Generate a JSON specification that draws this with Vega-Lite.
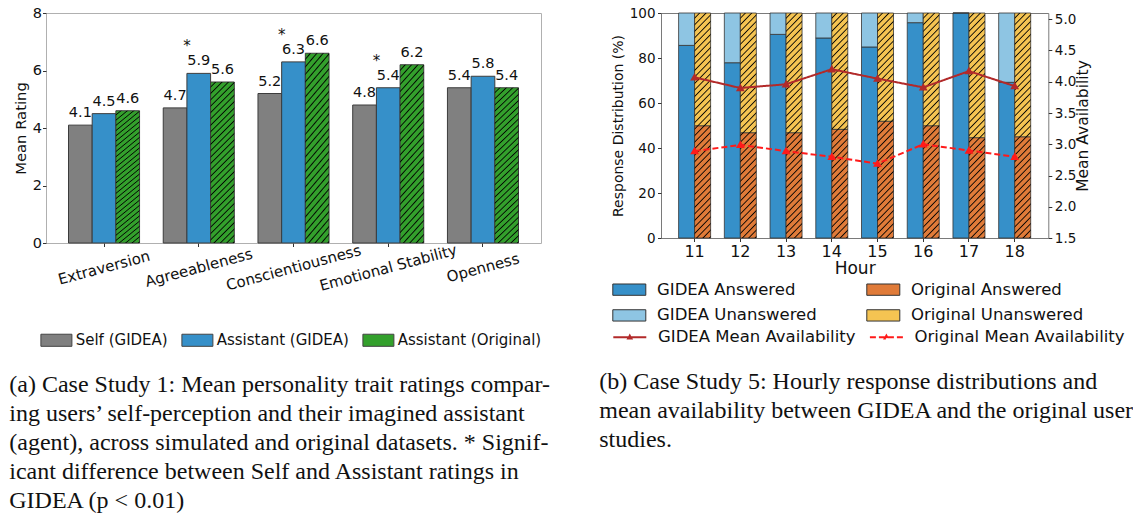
{
"$schema": "https://vega.github.io/schema/vega-lite/v6.json",
"background": "white",
"padding": {"left": 8, "top": 4, "right": 0, "bottom": 0},
"spacing": 47,
"resolve": {"scale": {"x": "independent", "y": "independent", "xOffset": "independent", "color": "independent", "fill": "independent", "stroke": "independent", "strokeDash": "independent"}, "legend": {"color": "independent", "fill": "independent", "stroke": "independent", "strokeDash": "independent"}, "axis": {"x": "independent", "y": "independent"}},
"datasets": {
"traits": [
{"trait":"Extraversion","group":"Self (GIDEA)","value":4.1,"sig":false},
{"trait":"Extraversion","group":"Assistant (GIDEA)","value":4.5,"sig":false},
{"trait":"Extraversion","group":"Assistant (Original)","value":4.6,"sig":false},
{"trait":"Agreeableness","group":"Self (GIDEA)","value":4.7,"sig":false},
{"trait":"Agreeableness","group":"Assistant (GIDEA)","value":5.9,"sig":true},
{"trait":"Agreeableness","group":"Assistant (Original)","value":5.6,"sig":false},
{"trait":"Conscientiousness","group":"Self (GIDEA)","value":5.2,"sig":false},
{"trait":"Conscientiousness","group":"Assistant (GIDEA)","value":6.3,"sig":true},
{"trait":"Conscientiousness","group":"Assistant (Original)","value":6.6,"sig":false},
{"trait":"Emotional Stability","group":"Self (GIDEA)","value":4.8,"sig":false},
{"trait":"Emotional Stability","group":"Assistant (GIDEA)","value":5.4,"sig":true},
{"trait":"Emotional Stability","group":"Assistant (Original)","value":6.2,"sig":false},
{"trait":"Openness","group":"Self (GIDEA)","value":5.4,"sig":false},
{"trait":"Openness","group":"Assistant (GIDEA)","value":5.8,"sig":false},
{"trait":"Openness","group":"Assistant (Original)","value":5.4,"sig":false}
],
"resp": [
{"hour":11,"source":"GIDEA","status":"Answered","series":"GIDEA Answered","pct":85.6},
{"hour":11,"source":"GIDEA","status":"Unanswered","series":"GIDEA Unanswered","pct":14.4},
{"hour":11,"source":"Original","status":"Answered","series":"Original Answered","pct":49.9},
{"hour":11,"source":"Original","status":"Unanswered","series":"Original Unanswered","pct":50.1},
{"hour":12,"source":"GIDEA","status":"Answered","series":"GIDEA Answered","pct":77.9},
{"hour":12,"source":"GIDEA","status":"Unanswered","series":"GIDEA Unanswered","pct":22.1},
{"hour":12,"source":"Original","status":"Answered","series":"Original Answered","pct":46.8},
{"hour":12,"source":"Original","status":"Unanswered","series":"Original Unanswered","pct":53.2},
{"hour":13,"source":"GIDEA","status":"Answered","series":"GIDEA Answered","pct":90.5},
{"hour":13,"source":"GIDEA","status":"Unanswered","series":"GIDEA Unanswered","pct":9.5},
{"hour":13,"source":"Original","status":"Answered","series":"Original Answered","pct":46.8},
{"hour":13,"source":"Original","status":"Unanswered","series":"Original Unanswered","pct":53.2},
{"hour":14,"source":"GIDEA","status":"Answered","series":"GIDEA Answered","pct":88.9},
{"hour":14,"source":"GIDEA","status":"Unanswered","series":"GIDEA Unanswered","pct":11.1},
{"hour":14,"source":"Original","status":"Answered","series":"Original Answered","pct":48.3},
{"hour":14,"source":"Original","status":"Unanswered","series":"Original Unanswered","pct":51.7},
{"hour":15,"source":"GIDEA","status":"Answered","series":"GIDEA Answered","pct":84.9},
{"hour":15,"source":"GIDEA","status":"Unanswered","series":"GIDEA Unanswered","pct":15.1},
{"hour":15,"source":"Original","status":"Answered","series":"Original Answered","pct":51.9},
{"hour":15,"source":"Original","status":"Unanswered","series":"Original Unanswered","pct":48.1},
{"hour":16,"source":"GIDEA","status":"Answered","series":"GIDEA Answered","pct":95.7},
{"hour":16,"source":"GIDEA","status":"Unanswered","series":"GIDEA Unanswered","pct":4.3},
{"hour":16,"source":"Original","status":"Answered","series":"Original Answered","pct":49.9},
{"hour":16,"source":"Original","status":"Unanswered","series":"Original Unanswered","pct":50.1},
{"hour":17,"source":"GIDEA","status":"Answered","series":"GIDEA Answered","pct":100},
{"hour":17,"source":"GIDEA","status":"Unanswered","series":"GIDEA Unanswered","pct":0},
{"hour":17,"source":"Original","status":"Answered","series":"Original Answered","pct":44.6},
{"hour":17,"source":"Original","status":"Unanswered","series":"Original Unanswered","pct":55.4},
{"hour":18,"source":"GIDEA","status":"Answered","series":"GIDEA Answered","pct":69.2},
{"hour":18,"source":"GIDEA","status":"Unanswered","series":"GIDEA Unanswered","pct":30.8},
{"hour":18,"source":"Original","status":"Answered","series":"Original Answered","pct":45.0},
{"hour":18,"source":"Original","status":"Unanswered","series":"Original Unanswered","pct":55.0}
],
"avail": [
{"hour":11,"series":"GIDEA Mean Availability","avail":4.07},
{"hour":12,"series":"GIDEA Mean Availability","avail":3.90},
{"hour":13,"series":"GIDEA Mean Availability","avail":3.96},
{"hour":14,"series":"GIDEA Mean Availability","avail":4.20},
{"hour":15,"series":"GIDEA Mean Availability","avail":4.05},
{"hour":16,"series":"GIDEA Mean Availability","avail":3.91},
{"hour":17,"series":"GIDEA Mean Availability","avail":4.17},
{"hour":18,"series":"GIDEA Mean Availability","avail":3.93},
{"hour":11,"series":"Original Mean Availability","avail":2.89},
{"hour":12,"series":"Original Mean Availability","avail":2.99},
{"hour":13,"series":"Original Mean Availability","avail":2.89},
{"hour":14,"series":"Original Mean Availability","avail":2.80},
{"hour":15,"series":"Original Mean Availability","avail":2.69},
{"hour":16,"series":"Original Mean Availability","avail":3.00},
{"hour":17,"series":"Original Mean Availability","avail":2.90},
{"hour":18,"series":"Original Mean Availability","avail":2.80}
]
},
"hconcat": [
{
"width": 495,
"height": 230,
"view": {"stroke": "#b0b0b0", "strokeWidth": 1},
"data": {"name": "traits"},
"title": {
"text": ["(a) Case Study 1: Mean personality trait ratings compar-", "ing users’ self-perception and their imagined assistant", "(agent), across simulated and original datasets. * Signif-", "icant difference between Self and Assistant ratings in", "GIDEA (p < 0.01)"],
"orient": "bottom", "anchor": "start", "frame": "bounds",
"font": "Liberation Serif", "fontSize": 24, "fontWeight": "normal", "lineHeight": 29,
"offset": 24, "dx": -4, "color": "#111"
},
"encoding": {
"x": {"field": "trait", "type": "nominal", "sort": ["Extraversion","Agreeableness","Conscientiousness","Emotional Stability","Openness"],
"scale": {"paddingInner": 0.25, "paddingOuter": 0.2375},
"axis": {"title": null, "labelAngle": -15, "labelAlign": "center", "labelBaseline": "middle", "labelPadding": 20.8, "labelFontSize": 15, "tickSize": 3.5, "domain": false, "labelOverlap": false, "labelBound": false, "labelLimit": 0}},
"xOffset": {"field": "group", "type": "nominal", "sort": ["Self (GIDEA)","Assistant (GIDEA)","Assistant (Original)"],
"scale": {"domain": ["Self (GIDEA)","Assistant (GIDEA)","Assistant (Original)"], "paddingInner": 0, "paddingOuter": 0}},
"y": {"field": "value", "type": "quantitative", "scale": {"domain": [0, 8], "nice": false},
"axis": {"values": [0,2,4,6,8], "title": "Mean Rating", "titleFontSize": 14.8, "titlePadding": 4, "labelFontSize": 14.5, "labelPadding": 1, "tickSize": 3.5, "domain": false}}
},
"layer": [
{
"mark": {"type": "bar", "stroke": "#3c3c3c", "strokeWidth": 1},
"encoding": {
"color": {"field": "group", "type": "nominal",
"scale": {"domain": ["Self (GIDEA)","Assistant (GIDEA)","Assistant (Original)"], "range": ["#808080","#3690c9","#33a02c"]},
"legend": {"orient": "none", "legendX": -5.6, "legendY": 310.8, "direction": "horizontal", "title": null,
"symbolType": "M-1,-0.39H1V0.39H-1Z", "symbolSize": 961, "symbolStrokeColor": "#444", "symbolStrokeWidth": 1, "symbolOpacity": 1,
"labelFontSize": 15, "labelOffset": 3.3, "columnPadding": 11, "labelColor": "#111"}}
}
},
{
"transform": [{"filter": "datum.group == 'Assistant (Original)'"}],
"mark": {"type": "bar", "strokeWidth": 0, "fill": {"gradient": "linear", "x1": 0, "y1": 0, "x2": 0.165, "y2": 1.123, "stops": [
{"offset":0,"color":"rgba(0,0,0,0)"},{"offset":0.0207,"color":"rgba(0,0,0,0)"},{"offset":0.0276,"color":"rgba(0,0,0,0.95)"},
{"offset":0.0345,"color":"rgba(0,0,0,0)"},{"offset":0.0552,"color":"rgba(0,0,0,0)"},{"offset":0.0621,"color":"rgba(0,0,0,0.95)"},
{"offset":0.0690,"color":"rgba(0,0,0,0)"},{"offset":0.0897,"color":"rgba(0,0,0,0)"},{"offset":0.0966,"color":"rgba(0,0,0,0.95)"},
{"offset":0.1034,"color":"rgba(0,0,0,0)"},{"offset":0.1241,"color":"rgba(0,0,0,0)"},{"offset":0.1310,"color":"rgba(0,0,0,0.95)"},
{"offset":0.1379,"color":"rgba(0,0,0,0)"},{"offset":0.1586,"color":"rgba(0,0,0,0)"},{"offset":0.1655,"color":"rgba(0,0,0,0.95)"},
{"offset":0.1724,"color":"rgba(0,0,0,0)"},{"offset":0.1931,"color":"rgba(0,0,0,0)"},{"offset":0.2000,"color":"rgba(0,0,0,0.95)"},
{"offset":0.2069,"color":"rgba(0,0,0,0)"},{"offset":0.2276,"color":"rgba(0,0,0,0)"},{"offset":0.2345,"color":"rgba(0,0,0,0.95)"},
{"offset":0.2414,"color":"rgba(0,0,0,0)"},{"offset":0.2621,"color":"rgba(0,0,0,0)"},{"offset":0.2690,"color":"rgba(0,0,0,0.95)"},
{"offset":0.2759,"color":"rgba(0,0,0,0)"},{"offset":0.2966,"color":"rgba(0,0,0,0)"},{"offset":0.3035,"color":"rgba(0,0,0,0.95)"},
{"offset":0.3103,"color":"rgba(0,0,0,0)"},{"offset":0.3310,"color":"rgba(0,0,0,0)"},{"offset":0.3379,"color":"rgba(0,0,0,0.95)"},
{"offset":0.3448,"color":"rgba(0,0,0,0)"},{"offset":0.3655,"color":"rgba(0,0,0,0)"},{"offset":0.3724,"color":"rgba(0,0,0,0.95)"},
{"offset":0.3793,"color":"rgba(0,0,0,0)"},{"offset":0.4000,"color":"rgba(0,0,0,0)"},{"offset":0.4069,"color":"rgba(0,0,0,0.95)"},
{"offset":0.4138,"color":"rgba(0,0,0,0)"},{"offset":0.4345,"color":"rgba(0,0,0,0)"},{"offset":0.4414,"color":"rgba(0,0,0,0.95)"},
{"offset":0.4483,"color":"rgba(0,0,0,0)"},{"offset":0.4690,"color":"rgba(0,0,0,0)"},{"offset":0.4759,"color":"rgba(0,0,0,0.95)"},
{"offset":0.4828,"color":"rgba(0,0,0,0)"},{"offset":0.5035,"color":"rgba(0,0,0,0)"},{"offset":0.5104,"color":"rgba(0,0,0,0.95)"},
{"offset":0.5172,"color":"rgba(0,0,0,0)"},{"offset":0.5379,"color":"rgba(0,0,0,0)"},{"offset":0.5448,"color":"rgba(0,0,0,0.95)"},
{"offset":0.5517,"color":"rgba(0,0,0,0)"},{"offset":0.5724,"color":"rgba(0,0,0,0)"},{"offset":0.5793,"color":"rgba(0,0,0,0.95)"},
{"offset":0.5862,"color":"rgba(0,0,0,0)"},{"offset":0.6069,"color":"rgba(0,0,0,0)"},{"offset":0.6138,"color":"rgba(0,0,0,0.95)"},
{"offset":0.6207,"color":"rgba(0,0,0,0)"},{"offset":0.6414,"color":"rgba(0,0,0,0)"},{"offset":0.6483,"color":"rgba(0,0,0,0.95)"},
{"offset":0.6552,"color":"rgba(0,0,0,0)"},{"offset":0.6759,"color":"rgba(0,0,0,0)"},{"offset":0.6828,"color":"rgba(0,0,0,0.95)"},
{"offset":0.6897,"color":"rgba(0,0,0,0)"},{"offset":0.7104,"color":"rgba(0,0,0,0)"},{"offset":0.7173,"color":"rgba(0,0,0,0.95)"},
{"offset":0.7241,"color":"rgba(0,0,0,0)"},{"offset":0.7448,"color":"rgba(0,0,0,0)"},{"offset":0.7517,"color":"rgba(0,0,0,0.95)"},
{"offset":0.7586,"color":"rgba(0,0,0,0)"},{"offset":0.7793,"color":"rgba(0,0,0,0)"},{"offset":0.7862,"color":"rgba(0,0,0,0.95)"},
{"offset":0.7931,"color":"rgba(0,0,0,0)"},{"offset":0.8138,"color":"rgba(0,0,0,0)"},{"offset":0.8207,"color":"rgba(0,0,0,0.95)"},
{"offset":0.8276,"color":"rgba(0,0,0,0)"},{"offset":0.8483,"color":"rgba(0,0,0,0)"},{"offset":0.8552,"color":"rgba(0,0,0,0.95)"},
{"offset":0.8621,"color":"rgba(0,0,0,0)"},{"offset":0.8828,"color":"rgba(0,0,0,0)"},{"offset":0.8897,"color":"rgba(0,0,0,0.95)"},
{"offset":0.8966,"color":"rgba(0,0,0,0)"},{"offset":0.9173,"color":"rgba(0,0,0,0)"},{"offset":0.9242,"color":"rgba(0,0,0,0.95)"},
{"offset":0.9310,"color":"rgba(0,0,0,0)"},{"offset":0.9517,"color":"rgba(0,0,0,0)"},{"offset":0.9586,"color":"rgba(0,0,0,0.95)"},
{"offset":0.9655,"color":"rgba(0,0,0,0)"},{"offset":0.9862,"color":"rgba(0,0,0,0)"},{"offset":0.9931,"color":"rgba(0,0,0,0.95)"},
{"offset":1,"color":"rgba(0,0,0,0)"}
]}}
},
{
"mark": {"type": "text", "baseline": "alphabetic", "dy": -8, "fontSize": 14.5, "color": "#111"},
"encoding": {"text": {"field": "value", "type": "quantitative", "format": ".1f"}}
},
{
"transform": [{"filter": "datum.sig"}],
"mark": {"type": "text", "text": "*", "baseline": "alphabetic", "dx": -11.7, "dy": -22, "fontSize": 15, "color": "#111"}
}
]
},
{
"width": 387.3,
"height": 225,
"view": {"stroke": "#7a7a7a", "strokeWidth": 1},
"title": {
"text": ["(b) Case Study 5: Hourly response distributions and", "mean availability between GIDEA and the original user", "studies."],
"orient": "bottom", "anchor": "start", "frame": "bounds",
"font": "Liberation Serif", "fontSize": 24, "fontWeight": "normal", "lineHeight": 29,
"offset": 24, "dx": -12, "color": "#111"
},
"encoding": {
"x": {"field": "hour", "type": "ordinal", "scale": {"paddingInner": 0.3, "paddingOuter": 0.385},
"axis": {"title": "Hour", "labelAngle": 0, "labelFontSize": 16, "titleFontSize": 17, "titlePadding": 1, "labelPadding": 2, "tickSize": 3.5, "domain": false}}
},
"layer": [
{
"data": {"name": "resp"},
"encoding": {
"xOffset": {"field": "source", "type": "nominal", "scale": {"domain": ["GIDEA","Original"], "paddingInner": 0, "paddingOuter": 0}}
},
"layer": [
{
"mark": {"type": "bar", "stroke": "#333", "strokeWidth": 0.8},
"encoding": {
"y": {"field": "pct", "type": "quantitative", "stack": "zero", "scale": {"domain": [0, 100], "nice": false},
"axis": {"values": [0,20,40,60,80,100], "title": "Response Distribution (%)", "titleFontSize": 14, "titlePadding": 4, "labelFontSize": 13.5, "labelPadding": 2.5, "tickSize": 3.5, "domain": false}},
"fill": {"field": "series", "type": "nominal",
"scale": {"domain": ["GIDEA Answered","GIDEA Unanswered","Original Answered","Original Unanswered"],
"range": ["#3690c9","#8ec5e3","#e07b39","#f5c452"]},
"legend": {"orient": "none", "legendX": -48.7, "legendY": 259.4, "columns": 2, "title": null,
"symbolType": "M-1,-0.343H1V0.343H-1Z", "symbolSize": 1089, "symbolStrokeColor": "#333", "symbolStrokeWidth": 1, "symbolOpacity": 1,
"labelFontSize": 16.5, "labelOffset": 10.7, "columnPadding": 47, "rowPadding": -2.5, "labelColor": "#111", "labelLimit": 0}},
"order": {"field": "status", "sort": "ascending"}
}
},
{
"transform": [{"filter": "datum.source == 'Original'"}],
"mark": {"type": "bar", "strokeWidth": 0, "fill": {"gradient": "linear", "x1": 0, "y1": 0, "x2": 0.0778, "y2": 1.0672, "stops": [
{"offset":0,"color":"rgba(0,0,0,0)"},{"offset":0.0162,"color":"rgba(0,0,0,0)"},{"offset":0.0216,"color":"rgba(0,0,0,0.95)"},
{"offset":0.0270,"color":"rgba(0,0,0,0)"},{"offset":0.0432,"color":"rgba(0,0,0,0)"},{"offset":0.0486,"color":"rgba(0,0,0,0.95)"},
{"offset":0.0541,"color":"rgba(0,0,0,0)"},{"offset":0.0703,"color":"rgba(0,0,0,0)"},{"offset":0.0757,"color":"rgba(0,0,0,0.95)"},
{"offset":0.0811,"color":"rgba(0,0,0,0)"},{"offset":0.0973,"color":"rgba(0,0,0,0)"},{"offset":0.1027,"color":"rgba(0,0,0,0.95)"},
{"offset":0.1081,"color":"rgba(0,0,0,0)"},{"offset":0.1243,"color":"rgba(0,0,0,0)"},{"offset":0.1297,"color":"rgba(0,0,0,0.95)"},
{"offset":0.1351,"color":"rgba(0,0,0,0)"},{"offset":0.1513,"color":"rgba(0,0,0,0)"},{"offset":0.1567,"color":"rgba(0,0,0,0.95)"},
{"offset":0.1622,"color":"rgba(0,0,0,0)"},{"offset":0.1784,"color":"rgba(0,0,0,0)"},{"offset":0.1838,"color":"rgba(0,0,0,0.95)"},
{"offset":0.1892,"color":"rgba(0,0,0,0)"},{"offset":0.2054,"color":"rgba(0,0,0,0)"},{"offset":0.2108,"color":"rgba(0,0,0,0.95)"},
{"offset":0.2162,"color":"rgba(0,0,0,0)"},{"offset":0.2324,"color":"rgba(0,0,0,0)"},{"offset":0.2378,"color":"rgba(0,0,0,0.95)"},
{"offset":0.2432,"color":"rgba(0,0,0,0)"},{"offset":0.2594,"color":"rgba(0,0,0,0)"},{"offset":0.2648,"color":"rgba(0,0,0,0.95)"},
{"offset":0.2703,"color":"rgba(0,0,0,0)"},{"offset":0.2865,"color":"rgba(0,0,0,0)"},{"offset":0.2919,"color":"rgba(0,0,0,0.95)"},
{"offset":0.2973,"color":"rgba(0,0,0,0)"},{"offset":0.3135,"color":"rgba(0,0,0,0)"},{"offset":0.3189,"color":"rgba(0,0,0,0.95)"},
{"offset":0.3243,"color":"rgba(0,0,0,0)"},{"offset":0.3405,"color":"rgba(0,0,0,0)"},{"offset":0.3459,"color":"rgba(0,0,0,0.95)"},
{"offset":0.3514,"color":"rgba(0,0,0,0)"},{"offset":0.3676,"color":"rgba(0,0,0,0)"},{"offset":0.3730,"color":"rgba(0,0,0,0.95)"},
{"offset":0.3784,"color":"rgba(0,0,0,0)"},{"offset":0.3946,"color":"rgba(0,0,0,0)"},{"offset":0.4000,"color":"rgba(0,0,0,0.95)"},
{"offset":0.4054,"color":"rgba(0,0,0,0)"},{"offset":0.4216,"color":"rgba(0,0,0,0)"},{"offset":0.4270,"color":"rgba(0,0,0,0.95)"},
{"offset":0.4324,"color":"rgba(0,0,0,0)"},{"offset":0.4486,"color":"rgba(0,0,0,0)"},{"offset":0.4540,"color":"rgba(0,0,0,0.95)"},
{"offset":0.4595,"color":"rgba(0,0,0,0)"},{"offset":0.4757,"color":"rgba(0,0,0,0)"},{"offset":0.4811,"color":"rgba(0,0,0,0.95)"},
{"offset":0.4865,"color":"rgba(0,0,0,0)"},{"offset":0.5027,"color":"rgba(0,0,0,0)"},{"offset":0.5081,"color":"rgba(0,0,0,0.95)"},
{"offset":0.5135,"color":"rgba(0,0,0,0)"},{"offset":0.5297,"color":"rgba(0,0,0,0)"},{"offset":0.5351,"color":"rgba(0,0,0,0.95)"},
{"offset":0.5405,"color":"rgba(0,0,0,0)"},{"offset":0.5567,"color":"rgba(0,0,0,0)"},{"offset":0.5621,"color":"rgba(0,0,0,0.95)"},
{"offset":0.5676,"color":"rgba(0,0,0,0)"},{"offset":0.5838,"color":"rgba(0,0,0,0)"},{"offset":0.5892,"color":"rgba(0,0,0,0.95)"},
{"offset":0.5946,"color":"rgba(0,0,0,0)"},{"offset":0.6108,"color":"rgba(0,0,0,0)"},{"offset":0.6162,"color":"rgba(0,0,0,0.95)"},
{"offset":0.6216,"color":"rgba(0,0,0,0)"},{"offset":0.6378,"color":"rgba(0,0,0,0)"},{"offset":0.6432,"color":"rgba(0,0,0,0.95)"},
{"offset":0.6486,"color":"rgba(0,0,0,0)"},{"offset":0.6648,"color":"rgba(0,0,0,0)"},{"offset":0.6702,"color":"rgba(0,0,0,0.95)"},
{"offset":0.6757,"color":"rgba(0,0,0,0)"},{"offset":0.6919,"color":"rgba(0,0,0,0)"},{"offset":0.6973,"color":"rgba(0,0,0,0.95)"},
{"offset":0.7027,"color":"rgba(0,0,0,0)"},{"offset":0.7189,"color":"rgba(0,0,0,0)"},{"offset":0.7243,"color":"rgba(0,0,0,0.95)"},
{"offset":0.7297,"color":"rgba(0,0,0,0)"},{"offset":0.7459,"color":"rgba(0,0,0,0)"},{"offset":0.7513,"color":"rgba(0,0,0,0.95)"},
{"offset":0.7568,"color":"rgba(0,0,0,0)"},{"offset":0.7730,"color":"rgba(0,0,0,0)"},{"offset":0.7784,"color":"rgba(0,0,0,0.95)"},
{"offset":0.7838,"color":"rgba(0,0,0,0)"},{"offset":0.8000,"color":"rgba(0,0,0,0)"},{"offset":0.8054,"color":"rgba(0,0,0,0.95)"},
{"offset":0.8108,"color":"rgba(0,0,0,0)"},{"offset":0.8270,"color":"rgba(0,0,0,0)"},{"offset":0.8324,"color":"rgba(0,0,0,0.95)"},
{"offset":0.8378,"color":"rgba(0,0,0,0)"},{"offset":0.8540,"color":"rgba(0,0,0,0)"},{"offset":0.8594,"color":"rgba(0,0,0,0.95)"},
{"offset":0.8649,"color":"rgba(0,0,0,0)"},{"offset":0.8811,"color":"rgba(0,0,0,0)"},{"offset":0.8865,"color":"rgba(0,0,0,0.95)"},
{"offset":0.8919,"color":"rgba(0,0,0,0)"},{"offset":0.9081,"color":"rgba(0,0,0,0)"},{"offset":0.9135,"color":"rgba(0,0,0,0.95)"},
{"offset":0.9189,"color":"rgba(0,0,0,0)"},{"offset":0.9351,"color":"rgba(0,0,0,0)"},{"offset":0.9405,"color":"rgba(0,0,0,0.95)"},
{"offset":0.9459,"color":"rgba(0,0,0,0)"},{"offset":0.9621,"color":"rgba(0,0,0,0)"},{"offset":0.9675,"color":"rgba(0,0,0,0.95)"},
{"offset":0.9730,"color":"rgba(0,0,0,0)"},{"offset":0.9892,"color":"rgba(0,0,0,0)"},{"offset":0.9946,"color":"rgba(0,0,0,0.95)"},
{"offset":1,"color":"rgba(0,0,0,0)"}
]}},
"encoding": {"y": {"aggregate": "sum", "field": "pct", "type": "quantitative"}}
}
]
},
{
"data": {"name": "avail"},
"encoding": {
"y": {"field": "avail", "type": "quantitative", "scale": {"domain": [1.5, 5.1], "nice": false, "zero": false},
"axis": {"orient": "right", "values": [1.5,2,2.5,3,3.5,4,4.5,5], "format": ".1f", "title": "Mean Availability", "titleAngle": 270, "titleBaseline": "top", "titleFontSize": 15.5, "titlePadding": 0, "labelFontSize": 13.5, "labelPadding": 2.5, "tickSize": 3.5, "domain": false}},
"stroke": {"field": "series", "type": "nominal",
"scale": {"domain": ["GIDEA Mean Availability","Original Mean Availability"], "range": ["#b22a2a","#ff1a1a"]},
"legend": {"orient": "none", "legendX": -48.7, "legendY": 306.8, "direction": "horizontal", "title": null,
"symbolType": "M-1,0H1M-0.1,0.08L0,-0.1L0.1,0.08Z", "symbolSize": 1089, "symbolStrokeWidth": 2, "symbolOpacity": 1,
"labelFontSize": 16.5, "labelOffset": 10.7, "columnPadding": 9.6, "labelColor": "#111", "labelLimit": 0}}
},
"layer": [
{
"mark": {"type": "line", "strokeWidth": 2},
"encoding": {
"strokeDash": {"field": "series", "type": "nominal", "scale": {"domain": ["GIDEA Mean Availability","Original Mean Availability"], "range": [[1,0],[6,3]]},
"legend": {"orient": "none", "legendX": -48.7, "legendY": 306.8, "direction": "horizontal", "title": null,
"symbolType": "M-1,0H1M-0.1,0.08L0,-0.1L0.1,0.08Z", "symbolSize": 1089, "symbolStrokeWidth": 2, "symbolOpacity": 1,
"labelFontSize": 16.5, "labelOffset": 10.7, "columnPadding": 9.6, "labelColor": "#111", "labelLimit": 0}}
}
},
{
"mark": {"type": "point", "shape": "triangle-up", "size": 20, "filled": false, "strokeWidth": 2.5, "opacity": 1}
}
]
}
],
"resolve": {"scale": {"y": "independent"}}
}
],
"config": {
"font": "DejaVu Sans",
"axis": {"labelFont": "DejaVu Sans", "titleFont": "DejaVu Sans", "labelColor": "#111", "titleColor": "#111", "titleFontWeight": "normal", "tickColor": "#333", "grid": false},
"legend": {"labelFont": "DejaVu Sans"},
"text": {"font": "DejaVu Sans"}
}
}
